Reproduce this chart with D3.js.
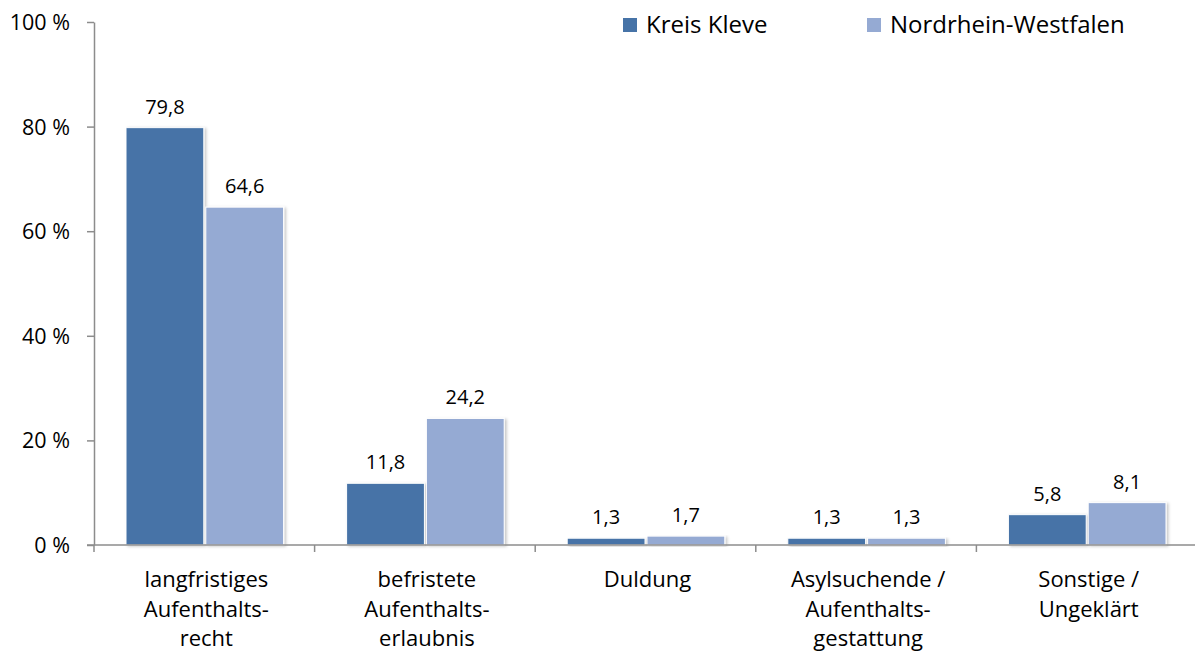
<!DOCTYPE html>
<html>
<head>
<meta charset="utf-8">
<script src="https://cdn.jsdelivr.net/npm/d3@7"></script>
<style>
  body { margin: 0; background: #fff; }
  text { font-family: "Open Sans", "Noto Sans", sans-serif; fill: #000; }
</style>
</head>
<body>
<div id="chart"></div>
<script>
// categories (lines of each label) and values in percent
const categories = [
    ["langfristiges", "Aufenthalts-", "recht"],
    ["befristete", "Aufenthalts-", "erlaubnis"],
    ["Duldung"],
    ["Asylsuchende /", "Aufenthalts-", "gestattung"],
    ["Sonstige /", "Ungeklärt"]
];
const seriesNames = ["Kreis Kleve", "Nordrhein-Westfalen"];
const kreisKleve = [79.8, 11.8, 1.3, 1.3, 5.8];
const nrw = [64.6, 24.2, 1.7, 1.3, 8.1];
const yTicks = [0, 20, 40, 60, 80, 100];

const colors = ["#4673a7", "#95aad3"];
const width = 1195, height = 653;
const margin = {top: 22, right: -2, bottom: 108, left: 94};

const svg = d3.select("#chart").append("svg")
    .attr("width", width)
    .attr("height", height);

// soft shadow like the office chart
const defs = svg.append("defs");
const filter = defs.append("filter").attr("id", "shadow")
    .attr("x", "-10%").attr("y", "-10%").attr("width", "130%").attr("height", "130%");
filter.append("feDropShadow")
    .attr("dx", 2).attr("dy", 1).attr("stdDeviation", 1.5)
    .attr("flood-color", "#000").attr("flood-opacity", 0.22);

const x0 = d3.scaleBand()
    .domain(d3.range(categories.length))
    .range([margin.left, width - margin.right])
    .paddingInner(0).paddingOuter(0);

const x1 = d3.scaleBand()
    .domain([0, 1])
    .range([32, x0.bandwidth() - 31])
    .paddingInner(0.025).paddingOuter(0);

const y = d3.scaleLinear()
    .domain([0, 100])
    .range([height - margin.bottom, margin.top]);

// y axis
const yAxis = svg.append("g")
    .attr("transform", `translate(${margin.left},0)`)
    .call(d3.axisLeft(y).tickValues(yTicks).tickSize(7).tickSizeOuter(0).tickFormat(d => d + " %"));
yAxis.select(".domain").attr("stroke", "#8c8c8c").attr("stroke-width", 1.5);
yAxis.selectAll(".tick line").attr("stroke", "#8c8c8c").attr("stroke-width", 1.5);
yAxis.selectAll(".tick text")
    .attr("x", -24)
    .attr("dy", "0.35em")
    .style("font-size", "21.5px")
    .style("font-family", "'Open Sans', sans-serif")
    .attr("fill", "#000");

// bars
const data = categories.map((c, i) => ({i, values: [kreisKleve[i], nrw[i]]}));

const groups = svg.append("g").selectAll("g")
    .data(data)
    .join("g")
    .attr("transform", d => `translate(${x0(d.i)},0)`);

groups.selectAll("rect")
    .data(d => d.values.map((v, k) => ({k, v})))
    .join("rect")
    .attr("x", d => x1(d.k))
    .attr("y", d => y(d.v))
    .attr("width", x1.bandwidth())
    .attr("height", d => y(0) - y(d.v))
    .attr("fill", d => colors[d.k])
    .attr("stroke", "#fff")
    .attr("stroke-width", 1)
    .attr("filter", "url(#shadow)");

groups.selectAll("text.val")
    .data(d => d.values.map((v, k) => ({k, v})))
    .join("text")
    .attr("class", "val")
    .attr("x", d => x1(d.k) + x1.bandwidth() / 2)
    .attr("y", d => y(d.v) - 14)
    .attr("text-anchor", "middle")
    .style("font-size", "20px")
    .text(d => d3.format(".1f")(d.v).replace(".", ","));

// x axis
const xAxis = svg.append("g")
    .attr("transform", `translate(0,${y(0)})`);
xAxis.append("line")
    .attr("x1", margin.left - 7).attr("x2", width)
    .attr("stroke", "#8c8c8c").attr("stroke-width", 1.5);
xAxis.selectAll("line.tick")
    .data(d3.range(categories.length + 1))
    .join("line")
    .attr("class", "tick")
    .attr("x1", i => x0.range()[0] + i * x0.step())
    .attr("x2", i => x0.range()[0] + i * x0.step())
    .attr("y1", 0).attr("y2", 7)
    .attr("stroke", "#8c8c8c").attr("stroke-width", 1.5);

const catLabels = svg.append("g").selectAll("text")
    .data(categories)
    .join("text")
    .attr("text-anchor", "middle")
    .style("font-size", "22px")
    .attr("transform", (d, i) => `translate(${x0(i) + x0.bandwidth() / 2 + 2},${y(0) + 42})`);
catLabels.selectAll("tspan")
    .data(d => d)
    .join("tspan")
    .attr("x", 0)
    .attr("dy", (d, j) => j === 0 ? 0 : 29.5)
    .text(d => d);

// legend
const legend = svg.append("g").selectAll("g")
    .data(seriesNames)
    .join("g")
    .attr("transform", (d, i) => `translate(${[623, 867][i]},18)`);
legend.append("rect")
    .attr("width", 14).attr("height", 14)
    .attr("fill", (d, i) => colors[i]);
legend.append("text")
    .attr("x", 23).attr("y", 15)
    .style("font-size", "24px")
    .text(d => d);
</script>
</body>
</html>
